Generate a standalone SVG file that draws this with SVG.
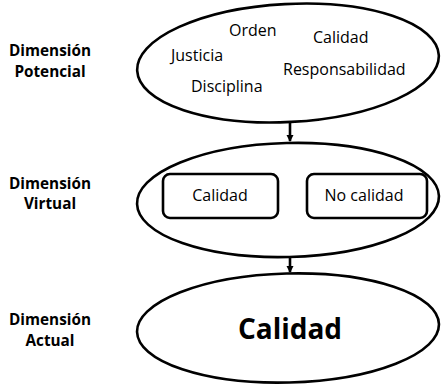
<svg xmlns="http://www.w3.org/2000/svg" width="441" height="384" viewBox="0 0 441 384">
<defs>
<style>
.lbl{font-family:"Open Sans","Liberation Sans",sans-serif;font-weight:bold;font-size:15.3px;fill:#000;text-anchor:middle}
.t{font-family:"Open Sans","Liberation Sans",sans-serif;font-size:16px;fill:#000}
.big{font-family:"Open Sans","Liberation Sans",sans-serif;font-weight:bold;font-size:28px;fill:#000;text-anchor:middle}
.ell{fill:#fff;stroke:#000;stroke-width:2.6}
.box{fill:#fff;stroke:#000;stroke-width:2.6}
.conn{stroke:#000;stroke-width:2.6;fill:none}
</style>
<marker id="arr" markerWidth="8" markerHeight="8" refX="6" refY="4" orient="auto" markerUnits="userSpaceOnUse">
<path d="M0,0.5 L7,4 L0,7.5 Z" fill="#000"/>
</marker>
</defs>
<rect width="441" height="384" fill="#fff"/>
<g id="labels">
<text class="lbl" x="50" y="56">Dimensión</text>
<text class="lbl" x="50" y="77">Potencial</text>
<text class="lbl" x="50" y="189">Dimensión</text>
<text class="lbl" x="50" y="209">Virtual</text>
<text class="lbl" x="50" y="325">Dimensión</text>
<text class="lbl" x="50" y="346">Actual</text>
</g>
<g id="connectors">
<line class="conn" x1="290" y1="122" x2="290" y2="141" marker-end="url(#arr)"/>
<line class="conn" x1="290" y1="257" x2="290" y2="272" marker-end="url(#arr)"/>
</g>
<g id="potencial">
<ellipse class="ell" cx="288" cy="63" rx="151" ry="59" transform="rotate(-3 288 63)"/>
<text class="t" x="229" y="36">Orden</text>
<text class="t" x="313" y="43">Calidad</text>
<text class="t" x="171" y="61">Justicia</text>
<text class="t" x="283" y="75">Responsabilidad</text>
<text class="t" x="191" y="92">Disciplina</text>
</g>
<g id="virtual">
<ellipse class="ell" cx="288" cy="200" rx="151" ry="57" transform="rotate(-1.5 288 200)"/>
<g id="v-calidad">
<rect class="box" x="163" y="174" width="115" height="44" rx="7"/>
<text class="t" x="220" y="201" text-anchor="middle">Calidad</text>
</g>
<g id="v-nocalidad">
<rect class="box" x="307" y="174" width="120" height="44" rx="7"/>
<text class="t" x="364" y="201" text-anchor="middle">No calidad</text>
</g>
</g>
<g id="actual">
<ellipse class="ell" cx="288" cy="328" rx="151" ry="54.5" transform="rotate(-1.5 288 328)"/>
<text class="big" x="290" y="339">Calidad</text>
</g>
</svg>
